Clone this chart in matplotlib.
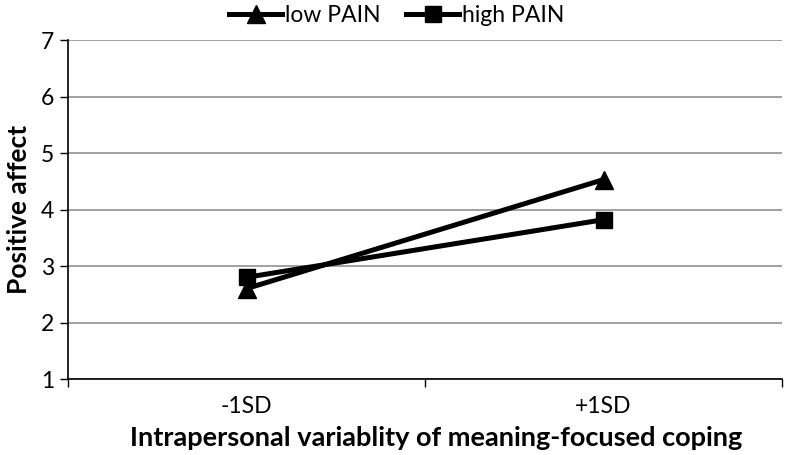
import matplotlib.pyplot as plt

categories = ['-1SD', '+1SD']
low_pain = [2.6, 4.53]
high_pain = [2.8, 3.82]
yticks = [1, 2, 3, 4, 5, 6, 7]

plt.rcParams['font.family'] = ['Lato', 'DejaVu Sans']

fig = plt.figure(figsize=(7.86, 4.55), dpi=100)
ax = fig.add_axes([0.0865, 0.167, 0.9085, 0.745])

xpos = [i + 0.5 for i in range(len(categories))]
ax.plot(xpos, low_pain, color='black', lw=3.6, marker='^', ms=13, label='low PAIN')
ax.plot(xpos, high_pain, color='black', lw=3.6, marker='s', ms=11.5, label='high PAIN')

ax.set_xlim(0, len(categories))
ax.set_ylim(1, 7)
ax.set_yticks(yticks)
ax.set_xticks(range(len(categories) + 1))
ax.set_xticklabels([])
ax.set_xticks(xpos, minor=True)
ax.set_xticklabels(categories, minor=True)
ax.tick_params(axis='x', which='minor', length=0, labelsize=16.5, pad=12)
ax.tick_params(axis='x', which='major', length=6, width=1, direction='out')
ax.tick_params(axis='y', labelsize=16.5, length=6, width=1, pad=4)

ax.grid(axis='y', color='#9a9a9a', lw=1.3)
ax.set_axisbelow(True)
for s in ['top', 'right']:
    ax.spines[s].set_visible(False)
ax.spines['left'].set_linewidth(1.2)
ax.spines['bottom'].set_linewidth(1.2)

ax.set_xlabel('Intrapersonal variablity of meaning-focused coping', fontsize=19.5, fontweight='bold', labelpad=7)
ax.xaxis.label.set_x(0.515)
ax.set_ylabel('Positive affect', fontsize=19, fontweight='bold', labelpad=7)

fig.legend(loc='upper center', bbox_to_anchor=(0.505, 1.035), ncol=2, frameon=False,
           fontsize=16.5, handlelength=2.3, columnspacing=1.1, handletextpad=0.15)

fig.savefig('out.png', dpi=100)
